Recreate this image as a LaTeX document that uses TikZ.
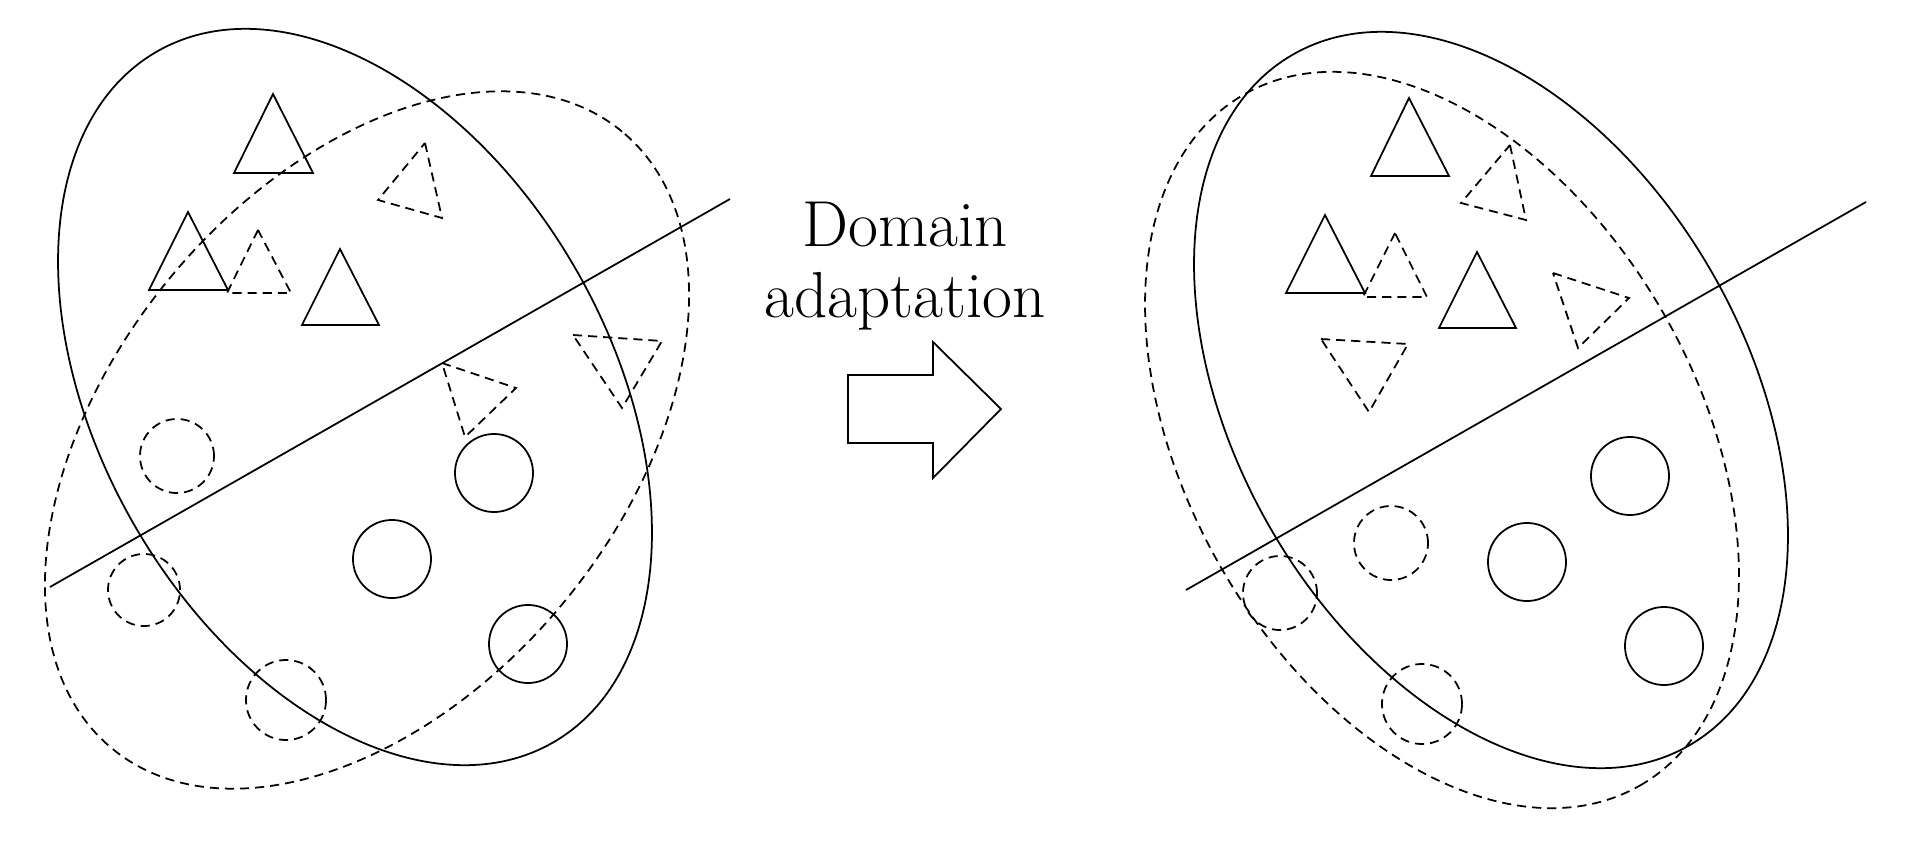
\documentclass[tikz,border=0pt]{standalone}
\usetikzlibrary{calc}
\begin{document}
\begin{tikzpicture}[x=0.01cm,y=-0.01cm,
  sl/.style={line width=0.5pt, line join=miter},
  dl/.style={line width=0.5pt, dash pattern=on 2.6pt off 1.7pt},
  lbl/.style={anchor=base, inner sep=0pt, font=\fontsize{18.5}{22}\selectfont}]
\useasboundingbox (0,0) rectangle (1920,845);

% ---------- left panel ----------
\draw[sl, rotate around={-60.2:(355,397)}] (355,397) ellipse [x radius=3.98cm, y radius=2.55cm];
\draw[dl, rotate around={50.4:(367,440)}] (367,440) ellipse [x radius=4.0cm, y radius=2.55cm];
\coordinate (L1) at (50,587);
\coordinate (L2) at (730,199);
\draw[sl] (L1) -- (L2);
% solid triangles
\draw[sl] (273,94) -- (234,173) -- (313,173) -- cycle;
\draw[sl] (188,212) -- (149,290) -- (228,290) -- cycle;
\draw[sl] (340,249) -- (302,325) -- (379,325) -- cycle;
% dashed triangles
\draw[dl] (258,230) -- (227,293) -- (291,293) -- cycle;
\draw[dl] (425,143) -- (442,218) -- (378,200) -- cycle;
\draw[dl] (442,363) -- (516,388) -- (465,437) -- cycle;
\draw[dl] (573,335) -- (662,341) -- (622,408) -- cycle;
% circles
\draw[dl] (177,456) circle [radius=0.37cm];
\draw[dl] (144,590) circle [radius=0.36cm];
\draw[dl] (286,700) circle [radius=0.40cm];
\draw[sl] (392,559) circle [radius=0.39cm];
\draw[sl] (494,473) circle [radius=0.39cm];
\draw[sl] (528,644) circle [radius=0.39cm];

% ---------- middle ----------
\node[lbl] (t1) at (905,246) {Domain};
\node[lbl] (t2) at (905,317) {adaptation};
\draw[sl] (848,375) -- (933,375) -- (933,342) -- (1001,409) -- (933,478) -- (933,443) -- (848,443) -- cycle;

% ---------- right panel ----------
\draw[sl, rotate around={-60.2:(1491,400)}] (1491,400) ellipse [x radius=3.98cm, y radius=2.55cm];
\draw[dl, rotate around={-60.2:(1442,440)}] (1442,440) ellipse [x radius=3.98cm, y radius=2.55cm];
\coordinate (R1) at (1186,590);
\coordinate (R2) at (1866,202);
\draw[sl] (R1) -- (R2);
% solid triangles
\draw[sl] (1409,98) -- (1371,176) -- (1449,176) -- cycle;
\draw[sl] (1325,215) -- (1286,293) -- (1365,293) -- cycle;
\draw[sl] (1477,252) -- (1439,328) -- (1516,328) -- cycle;
% dashed triangles
\draw[dl] (1395,233) -- (1363,297) -- (1427,297) -- cycle;
\draw[dl] (1510,145) -- (1526,220) -- (1461,203) -- cycle;
\draw[dl] (1321,339) -- (1408,344) -- (1369,412) -- cycle;
\draw[dl] (1553,273) -- (1629,298) -- (1578,348) -- cycle;
% circles
\draw[dl] (1391,543) circle [radius=0.37cm];
\draw[dl] (1280,593) circle [radius=0.37cm];
\draw[dl] (1422,704) circle [radius=0.40cm];
\draw[sl] (1527,562) circle [radius=0.39cm];
\draw[sl] (1630,476) circle [radius=0.39cm];
\draw[sl] (1664,646) circle [radius=0.39cm];
\end{tikzpicture}
\end{document}
